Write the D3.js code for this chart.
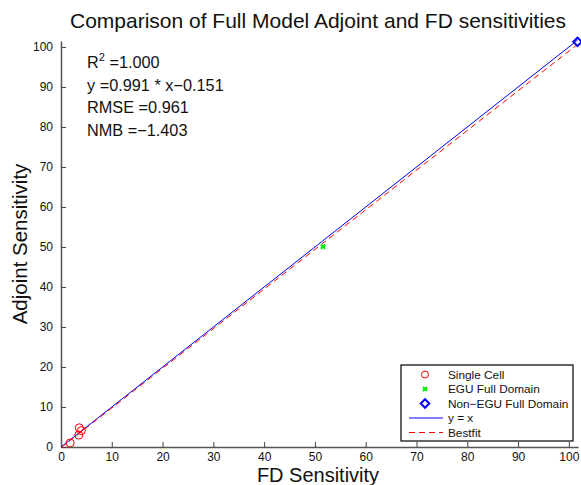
<!DOCTYPE html>
<html>
<head>
<meta charset="utf-8">
<script src="https://cdn.jsdelivr.net/npm/d3@7"></script>
<style>
  body { margin: 0; background: #fff; }
  text { font-family: "Liberation Sans", Arial, Helvetica, sans-serif; }
</style>
</head>
<body>
<div id="chart"></div>
<script>
// data
var singleCell = [[3.6, 4.8], [4.0, 4.1], [3.5, 3.0], [1.8, 1.0]];
var eguFull = [[51.6, 50.1]];
var nonEguFull = [[101.7, 101.3]];
var xTicks = [0, 10, 20, 30, 40, 50, 60, 70, 80, 90, 100];
var yTicks = [0, 10, 20, 30, 40, 50, 60, 70, 80, 90, 100];
var fitSlope = 0.991, fitIntercept = -0.151;
var stats = ["R\u00b2", "y =0.991 * x\u22120.151", "RMSE =0.961", "NMB =\u22121.403"];
var legendLabels = ["Single Cell", "EGU Full Domain", "Non\u2212EGU Full Domain", "y = x", "Bestfit"];

var W = 581, H = 485;
var m = {t: 41, r: 3, b: 38, l: 61};
var w = W - m.l - m.r, h = H - m.t - m.b;

var svg = d3.select("#chart").append("svg")
    .attr("width", W).attr("height", H);
var g = svg.append("g").attr("transform", "translate(" + m.l + "," + m.t + ")");

var x = d3.scaleLinear().domain([0, 101.8]).range([0, w]);
var y = d3.scaleLinear().domain([0, 101.5]).range([h, 0]);

// axes, ticks pointing inwards like matlab
var xAxis = g.append("g").attr("transform", "translate(0," + h + ")")
    .call(d3.axisBottom(x).tickValues(xTicks).tickSizeInner(-5).tickSizeOuter(0).tickPadding(5));
var yAxis = g.append("g")
    .call(d3.axisLeft(y).tickValues(yTicks).tickSizeInner(-5).tickSizeOuter(0).tickPadding(8));
[xAxis, yAxis].forEach(function(a){
    a.select(".domain").attr("stroke", "#555").attr("stroke-width", 1.5);
    a.selectAll(".tick line").attr("stroke", "#444");
    a.selectAll(".tick text").attr("font-size", 12).attr("fill", "#111")
        .attr("font-family", "Liberation Sans, Arial, sans-serif");
});

// y = x line and best fit
var xmax = nonEguFull[0][0];
g.append("line")
    .attr("x1", x(0)).attr("y1", y(0)).attr("x2", x(xmax)).attr("y2", y(xmax))
    .attr("stroke", "#0000ff").attr("stroke-width", 1);
g.append("line")
    .attr("x1", x(0)).attr("y1", y(fitIntercept)).attr("x2", x(xmax)).attr("y2", y(fitSlope * xmax + fitIntercept))
    .attr("stroke", "#ff0000").attr("stroke-width", 1).attr("stroke-dasharray", "6,4");

// markers
g.selectAll(".sc").data(singleCell).enter().append("circle")
    .attr("cx", function(d){ return x(d[0]); }).attr("cy", function(d){ return y(d[1]); })
    .attr("r", 4).attr("fill", "none").attr("stroke", "#ff0000").attr("stroke-width", 1);
g.selectAll(".egu").data(eguFull).enter().append("path")
    .attr("transform", function(d){ return "translate(" + x(d[0]) + "," + y(d[1]) + ")"; })
    .attr("d", d3.symbol(d3.symbolX, 14)).attr("stroke", "#00ee00").attr("stroke-width", 2).attr("fill", "none");
g.selectAll(".negu").data(nonEguFull).enter().append("path")
    .attr("transform", function(d){ return "translate(" + x(d[0]) + "," + y(d[1]) + ") rotate(45)"; })
    .attr("d", "M-3,-3L3,-3L3,3L-3,3Z").attr("stroke", "#0000ff").attr("stroke-width", 2).attr("fill", "none");

// title and axis labels
svg.append("text").attr("x", 318).attr("y", 28).attr("text-anchor", "middle")
    .attr("font-size", 21).attr("fill", "#111").text("Comparison of Full Model Adjoint and FD sensitivities");
svg.append("text").attr("x", 318).attr("y", 482).attr("text-anchor", "middle")
    .attr("font-size", 20).attr("fill", "#111").text("FD Sensitivity");
svg.append("text").attr("transform", "translate(27," + (m.t + h / 2) + ") rotate(-90)")
    .attr("text-anchor", "middle").attr("font-size", 20.5).attr("fill", "#111").text("Adjoint Sensitivity");

// stats text
var st = svg.append("g").attr("font-size", 16.3).attr("fill", "#111");
var r2 = st.append("text").attr("x", 87).attr("y", 68);
r2.append("tspan").text("R");
r2.append("tspan").attr("dy", -7).attr("font-size", 11).text("2");
r2.append("tspan").attr("dy", 7).text(" =1.000");
stats.slice(1).forEach(function(s, i){
    st.append("text").attr("x", 87).attr("y", 90.7 + i * 22.6).text(s);
});

// legend
var lg = svg.append("g").attr("transform", "translate(401,365)");
lg.append("rect").attr("width", 172).attr("height", 76)
    .attr("fill", "#fff").attr("stroke", "#000").attr("stroke-width", 1.2);
var rowY = function(i){ return 9.5 + i * 14.5; };
legendLabels.forEach(function(l, i){
    lg.append("text").attr("x", 47).attr("y", rowY(i) + 4).attr("font-size", 11.8)
        .attr("fill", "#111").text(l);
});
lg.append("circle").attr("cx", 24).attr("cy", rowY(0)).attr("r", 3.5)
    .attr("fill", "none").attr("stroke", "#ff0000");
lg.append("path").attr("transform", "translate(24," + rowY(1) + ")")
    .attr("d", d3.symbol(d3.symbolX, 12)).attr("stroke", "#00ee00").attr("stroke-width", 2).attr("fill", "none");
lg.append("path").attr("transform", "translate(24," + rowY(2) + ") rotate(45)")
    .attr("d", "M-3,-3L3,-3L3,3L-3,3Z").attr("stroke", "#0000ff").attr("stroke-width", 2).attr("fill", "none");
lg.append("line").attr("x1", 8).attr("x2", 42).attr("y1", rowY(3)).attr("y2", rowY(3))
    .attr("stroke", "#0000ff");
lg.append("line").attr("x1", 8).attr("x2", 42).attr("y1", rowY(4)).attr("y2", rowY(4))
    .attr("stroke", "#ff0000").attr("stroke-dasharray", "6,4");
</script>
</body>
</html>
